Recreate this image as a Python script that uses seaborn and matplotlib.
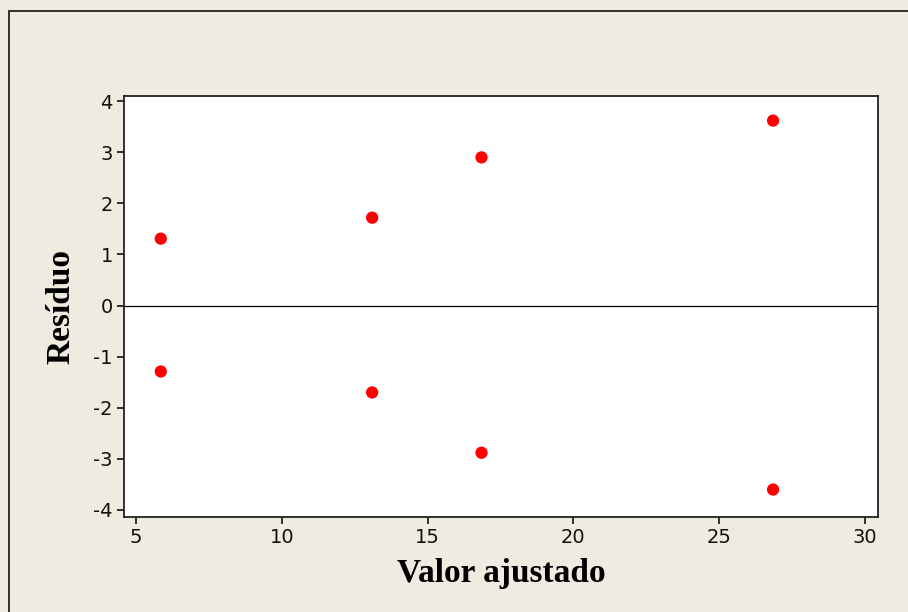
import matplotlib
matplotlib.use("Agg")
import matplotlib.pyplot as plt
import seaborn as sns
import pandas as pd
from matplotlib.patches import Rectangle

# fitted values and residuals
fitted = [5.85, 5.85, 13.1, 13.1, 16.85, 16.85, 26.85, 26.85]
residuals = [1.31, -1.29, 1.72, -1.70, 2.90, -2.88, 3.62, -3.60]
xticks = [5, 10, 15, 20, 25, 30]
yticks = [-4, -3, -2, -1, 0, 1, 2, 3, 4]

df = pd.DataFrame({"Valor ajustado": fitted, "Resíduo": residuals})

sns.set_style("ticks")
plt.rcParams['font.family'] = ['DejaVu Sans']
plt.rcParams['axes.unicode_minus'] = False

bg = "#EFEBE1"
fig = plt.figure(figsize=(9.08, 6.12), dpi=100, facecolor=bg)
ax = fig.add_axes([0.1366, 0.155, 0.8304, 0.688])
ax.set_facecolor("white")

# outer frame (left and top edges visible in the crop)
fig.patches.append(Rectangle((8.5 / 908, -0.05), 1.2, 1 - 10.5 / 612 + 0.05,
                             transform=fig.transFigure, fill=False,
                             edgecolor="#222222", linewidth=1.3, zorder=0))

sns.scatterplot(data=df, x="Valor ajustado", y="Resíduo", ax=ax,
                color="#FF0000", s=78, edgecolor="none", zorder=3)
ax.axhline(0, color="black", linewidth=0.9, zorder=2)

ax.set_xlim(4.59, 30.45)
ax.set_ylim(-4.14, 4.1)
ax.set_xticks(xticks)
ax.set_yticks(yticks)
ax.tick_params(direction="out", length=5, width=1.2, labelsize=14,
               colors="#111111", pad=3)
for s in ax.spines.values():
    s.set_visible(True)
    s.set_linewidth(1.3)
    s.set_color("#222222")

ax.set_xlabel("Valor ajustado", fontsize=24, fontweight="bold",
              family="Liberation Serif", color="black", labelpad=8)
ax.set_ylabel("Resíduo", fontsize=24, fontweight="bold",
              family="Liberation Serif", color="black", labelpad=12)

fig.savefig("out.png", dpi=100, facecolor=bg)
